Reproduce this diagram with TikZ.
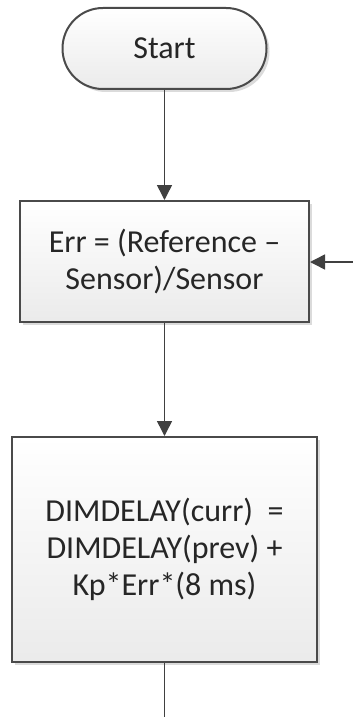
\documentclass[tikz,border=0pt]{standalone}
\usepackage{fontspec}
\setmainfont{Carlito}
\usetikzlibrary{arrows.meta,shadows}

\definecolor{edge}{HTML}{4A4A4A}
\definecolor{wire}{HTML}{404040}
\definecolor{ink}{HTML}{262626}

\tikzset{
  shape base/.style={draw=edge, line width=1pt, top color=white, bottom color=black!8,
    drop shadow={shadow xshift=1.5pt, shadow yshift=-1.5pt, fill=black!14, opacity=1},
    text=ink, align=center, inner sep=0pt,
    font=\fontsize{16}{18.5}\selectfont},
  terminal/.style={shape base, rectangle, rounded corners=20.2pt,
    minimum width=102pt, minimum height=40.5pt},
  process/.style={shape base, rectangle},
  flow/.style={draw=wire, line width=0.75pt, -{Triangle[length=7.5pt,width=7.5pt]}},
  plain/.style={draw=wire, line width=0.75pt}
}

\begin{document}
\begin{tikzpicture}[x=0.5pt,y=-0.5pt]
  \useasboundingbox (0,0) rectangle (353,717);

  % start terminal
  \node[terminal] (start) at (164.5,48.5) {Start};

  % error computation
  \node[process, minimum width=144.5pt, minimum height=60.5pt] (err) at (164.5,261.5)
    {Err = (Reference –\\Sensor)/Sensor};

  % delay update
  \node[process, minimum width=152.5pt, minimum height=112.5pt] (dim) at (164.5,549.5)
    {DIMDELAY(curr)\ \ =\\DIMDELAY(prev) +\\Kp*Err*(8 ms)};

  % loop-back entry and continuation
  \coordinate (back) at (353,262);
  \coordinate (next) at (164.5,717);

  \draw[flow] (start) -- (err);
  \draw[flow] (err) -- (dim);
  \draw[flow] (back) -- (back -| err.east);
  \draw[plain] (dim) -- (next);
\end{tikzpicture}
\end{document}
